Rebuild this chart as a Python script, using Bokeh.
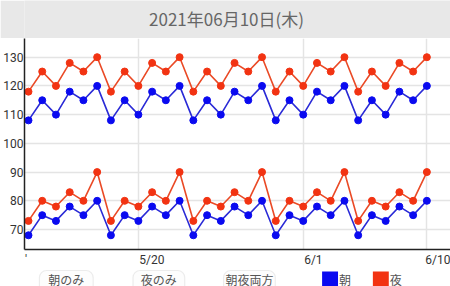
from bokeh.plotting import figure
from bokeh.layouts import column
from bokeh.models import FixedTicker, BoxAnnotation, Range1d, Label
from bokeh.embed import file_html
from bokeh.resources import INLINE

title_text = "2021年06月10日(木)"

dates = ["5/12", "5/13", "5/14", "5/15", "5/16", "5/17", "5/18", "5/19", "5/20", "5/21",
         "5/22", "5/23", "5/24", "5/25", "5/26", "5/27", "5/28", "5/29", "5/30", "5/31",
         "6/1", "6/2", "6/3", "6/4", "6/5", "6/6", "6/7", "6/8", "6/9", "6/10"]

night_hi = [118, 125, 120, 128, 125, 130, 118, 125, 120, 128, 125, 130, 118, 125, 120,
            128, 125, 130, 118, 125, 120, 128, 125, 130, 118, 125, 120, 128, 125, 130]
morning_hi = [108, 115, 110, 118, 115, 120, 108, 115, 110, 118, 115, 120, 108, 115, 110,
              118, 115, 120, 108, 115, 110, 118, 115, 120, 108, 115, 110, 118, 115, 120]
night_lo = [73, 80, 78, 83, 80, 90, 73, 80, 78, 83, 80, 90, 73, 80, 78,
            83, 80, 90, 73, 80, 78, 83, 80, 90, 73, 80, 78, 83, 80, 90]
morning_lo = [68, 75, 73, 78, 75, 80, 68, 75, 73, 78, 75, 80, 68, 75, 73,
              78, 75, 80, 68, 75, 73, 78, 75, 80, 68, 75, 73, 78, 75, 80]

y_ticks = [70, 80, 90, 100, 110, 120, 130]
x_tick_dates = ["5/20", "6/1", "6/10"]
button_labels = ["朝のみ", "夜のみ", "朝夜両方"]
legend_labels = ["朝", "夜"]

BLUE_LINE = "#2a2ad6"
BLUE_DOT = "#0a0af0"
RED_LINE = "#ea4a26"
RED_DOT = "#f23312"
FONT = "Roboto"
CJK = "Noto Sans CJK JP"
LEFT = 22

xs = list(range(len(dates)))
x0, x1 = -0.29, 30.72
PX_PER_DAY = (450 - LEFT) / (x1 - x0)
LABEL_PX = 12
DIGIT_W, SLASH_W = 0.562 * LABEL_PX, 0.41 * LABEL_PX

# ---------- header ----------
h = figure(width=450, height=38, x_range=Range1d(LEFT, 450), y_range=Range1d(0, 38),
           output_backend="svg", toolbar_location=None, x_axis_type=None, y_axis_type=None,
           min_border=0, min_border_left=LEFT)
h.grid.visible = False
h.outline_line_color = None
h.background_fill_color = "#e8e8e8"
h.border_fill_color = "#e8e8e8"
h.add_layout(Label(x=225, y=20, text=title_text, text_align="center", text_baseline="middle",
                   text_font=CJK, text_font_size="17px", text_color="#666666"))

# ---------- main chart ----------
p = figure(width=450, height=231, x_range=Range1d(x0, x1), y_range=Range1d(63.05, 136.5),
           output_backend="svg", toolbar_location=None,
           min_border_left=LEFT, min_border_right=0, min_border_top=0, min_border_bottom=16)
p.outline_line_color = None
p.background_fill_color = "white"
p.border_fill_color = "white"

# labels start at their date (left aligned), so place each label's centre half its width right
grid_pos = [x0] + [dates.index(d) for d in x_tick_dates]
label_pos = [x0 + 1.5 / PX_PER_DAY]
overrides = {label_pos[0]: "'"}
for d in x_tick_dates:
    w = (len(d) - 1) * DIGIT_W + SLASH_W
    pos = dates.index(d) + (w / 2 + 1) / PX_PER_DAY
    label_pos.append(pos)
    overrides[pos] = d
p.xaxis.ticker = FixedTicker(ticks=label_pos)
p.xaxis.major_label_overrides = overrides
p.xgrid.ticker = FixedTicker(ticks=grid_pos)
p.yaxis.ticker = FixedTicker(ticks=y_ticks)

for ax in (p.xaxis, p.yaxis):
    ax.axis_line_color = "#222222"
    ax.axis_line_width = 1.5
    ax.major_tick_line_color = None
    ax.minor_tick_line_color = None
    ax.major_tick_out = 0
    ax.major_tick_in = 0
    ax.major_label_text_font = FONT
    ax.major_label_text_font_size = f"{LABEL_PX}px"
    ax.major_label_text_color = "#333333"
p.yaxis.major_label_standoff = 1
p.xaxis.major_label_standoff = 3

p.xgrid.grid_line_color = "#e4e4e4"
p.xgrid.grid_line_width = 1.5
p.ygrid.grid_line_color = "#e4e4e4"
p.ygrid.grid_line_width = 1.5

for ys, lc, dc in ((night_hi, RED_LINE, RED_DOT), (morning_hi, BLUE_LINE, BLUE_DOT),
                   (night_lo, RED_LINE, RED_DOT), (morning_lo, BLUE_LINE, BLUE_DOT)):
    p.line(xs, ys, line_color=lc, line_width=1.6)
    p.scatter(xs, ys, size=7, fill_color=dc, line_color=dc)

# ---------- bottom controls ----------
b = figure(width=450, height=17, x_range=Range1d(LEFT, 450), y_range=Range1d(0, 17),
           output_backend="svg", toolbar_location=None, x_axis_type=None, y_axis_type=None,
           min_border=0, min_border_left=LEFT)
b.grid.visible = False
b.outline_line_color = None
b.background_fill_color = "white"
b.border_fill_color = "white"

btn_lr = [(37, 91), (131, 183), (222, 274)]
for (l, r), lab in zip(btn_lr, button_labels):
    b.add_layout(BoxAnnotation(left=l, right=r, top=16, bottom=-8, fill_color="#fdfdfd",
                               fill_alpha=1, line_color="#c2c2c2", line_width=1.2,
                               border_radius=7))
for (l, r), lab in zip(btn_lr, button_labels):
    b.add_layout(Label(x=(l + r) / 2, y=7.5, text=lab, text_align="center",
                       text_baseline="middle", text_font=CJK, text_font_size="12px",
                       text_color="#555555"))

legend_boxes = [(321, 337, BLUE_DOT), (372, 388, RED_DOT)]
for (l, r, c), lab in zip(legend_boxes, legend_labels):
    b.quad(left=[l], right=[r], top=[15], bottom=[-2], fill_color=c, line_color=None)
    b.add_layout(Label(x=r + 7, y=7.5, text=lab, text_align="center", text_baseline="middle",
                       text_font=CJK, text_font_size="12px", text_color="#555555"))

layout = column(h, p, b, spacing=0)
open("out.html", "w").write(file_html(layout, INLINE))
